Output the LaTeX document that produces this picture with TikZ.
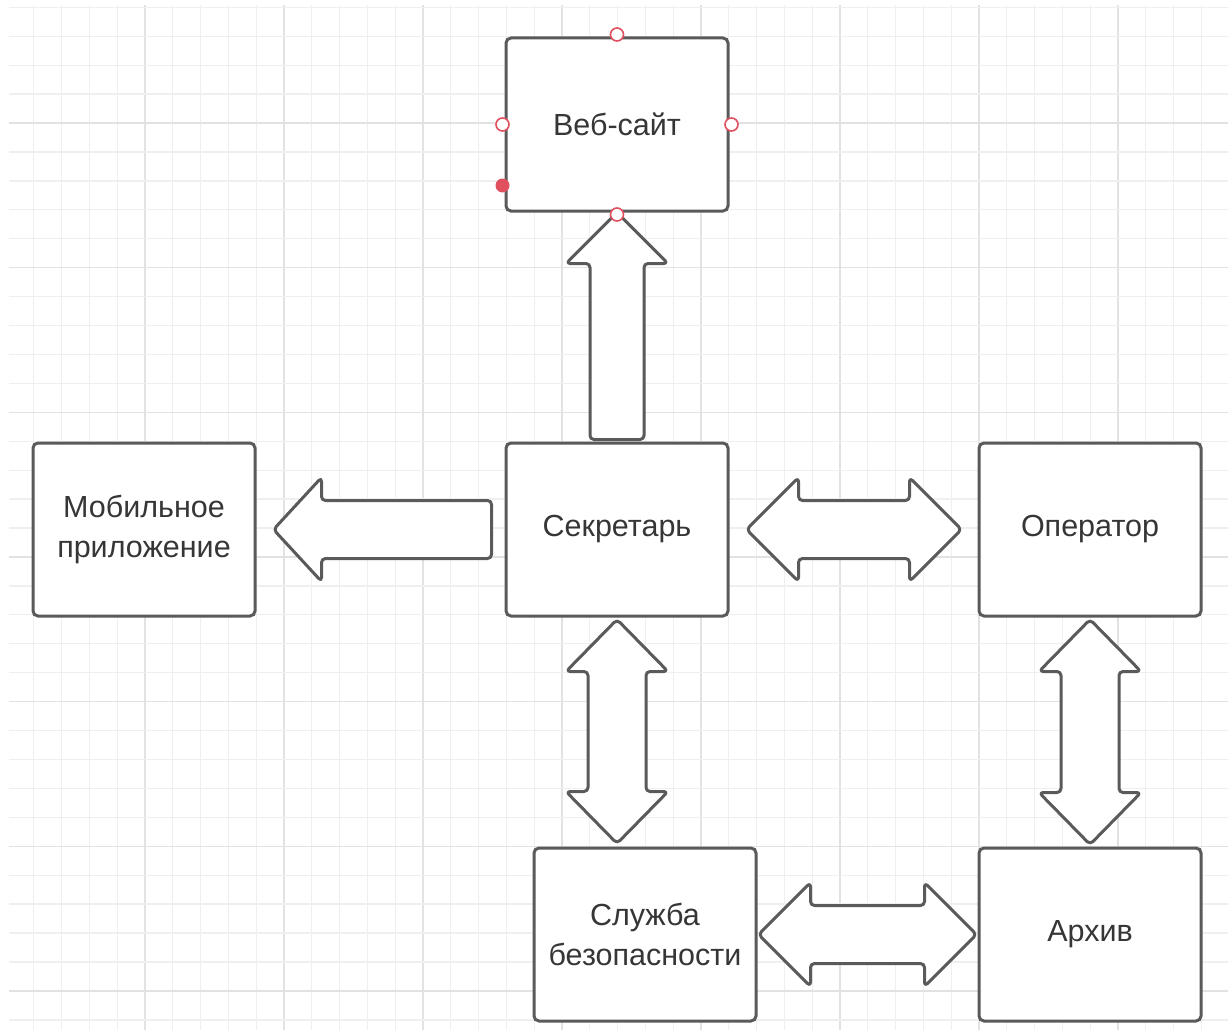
\documentclass[tikz,border=0pt]{standalone}
\usepackage{fontspec}
\setmainfont{Liberation Sans}
\usetikzlibrary{calc}

\definecolor{gridminor}{HTML}{EFEFEF}
\definecolor{gridmajor}{HTML}{E2E2E2}
\definecolor{outline}{HTML}{5A5A5A}
\definecolor{labeltext}{HTML}{363636}
\definecolor{handle}{HTML}{E0505F}

\tikzset{
  box/.style={draw=outline, line width=3pt, rounded corners=5pt, fill=white,
    minimum width=222pt, minimum height=173pt, align=center, text=labeltext,
    font=\fontsize{30.5}{40}\selectfont, inner sep=0pt},
  blk/.style={draw=outline, line width=3pt, fill=white, rounded corners=4pt, line join=round},
  handlering/.style={circle, draw=handle, line width=1.6pt, fill=white, minimum size=13pt, inner sep=0pt},
  handledot/.style={circle, fill=handle, minimum size=14pt, inner sep=0pt},
}

% double block arrow, horizontal: #1 left tip, #2 right tip
\newcommand\dblH[2]{%
  \draw[blk] (#1) -- ($(#1)+(52,-52)$) -- ($(#1)+(52,-29)$) -- ($(#2)+(-52,-29)$)
    -- ($(#2)+(-52,-52)$) -- (#2) -- ($(#2)+(-52,52)$) -- ($(#2)+(-52,29)$)
    -- ($(#1)+(52,29)$) -- ($(#1)+(52,52)$) -- cycle;}
% double block arrow, vertical: #1 top tip, #2 bottom tip
\newcommand\dblV[2]{%
  \draw[blk] (#1) -- ($(#1)+(51,52)$) -- ($(#1)+(29,52)$) -- ($(#2)+(29,-52)$)
    -- ($(#2)+(51,-52)$) -- (#2) -- ($(#2)+(-51,-52)$) -- ($(#2)+(-29,-52)$)
    -- ($(#1)+(-29,52)$) -- ($(#1)+(-51,52)$) -- cycle;}

\begin{document}
\begin{tikzpicture}[x=1pt, y=-1pt]
  \useasboundingbox (0,0) rectangle (1228,1030);
  \fill[white] (0,0) rectangle (1228,1030);

  % background grid
  \begin{scope}
    \clip (9,6) rectangle (1228,1030);
    \foreach \i in {0,...,44} {
      \pgfmathtruncatemacro{\m}{mod(\i,5)}
      \ifnum\m=0
        \draw[gridmajor, line width=1.5pt] ({6+27.8*\i},0) -- ({6+27.8*\i},1030);
      \else
        \draw[gridminor, line width=1.3pt] ({6+27.8*\i},0) -- ({6+27.8*\i},1030);
      \fi
    }
    \foreach \j in {0,...,35} {
      \pgfmathtruncatemacro{\m}{mod(\j+1,5)}
      \ifnum\m=0
        \draw[gridmajor, line width=1.5pt] (0,{7.3+28.93*\j}) -- (1228,{7.3+28.93*\j});
      \else
        \draw[gridminor, line width=1.3pt] (0,{7.3+28.93*\j}) -- (1228,{7.3+28.93*\j});
      \fi
    }
  \end{scope}

  % boxes
  \node[box] (web) at (617,124.5) {Веб-сайт};
  \node[box] (mob) at (144,529.5) {Мобильное\\приложение};
  \node[box] (sec) at (617,529.5) {Секретарь};
  \node[box] (op)  at (1090,529.5) {Оператор};
  \node[box] (sl)  at (645,934.5) {Служба\\безопасности};
  \node[box] (ar)  at (1090,934.5) {Архив};

  % arrow end points
  \coordinate (upTip)   at (web.south);
  \coordinate (upTail)  at ($(sec.north)+(0,-2)$);
  \coordinate (lTip)    at ($(mob.east)+(17,0)$);
  \coordinate (lTail)   at ($(sec.west)+(-13,0)$);
  \coordinate (soL)     at ($(sec.east)+(17,0)$);
  \coordinate (soR)     at ($(op.west)+(-16,0)$);
  \coordinate (ssT)     at ($(sec.south)+(0,2)$);
  \coordinate (ssB)     at ($(sec.south |- sl.north)+(0,-3)$);
  \coordinate (oaT)     at ($(op.south)+(0,2)$);
  \coordinate (oaB)     at ($(ar.north)+(0,-2)$);
  \coordinate (saL)     at ($(sl.east)+(1,0)$);
  \coordinate (saR)     at ($(ar.west)+(-1,0)$);

  % Секретарь -> Веб-сайт
  \draw[blk] (upTip) -- ($(upTip)+(51,51)$) -- ($(upTip)+(27,51)$) -- ($(upTail)+(27,0)$)
    -- ($(upTail)+(-27,0)$) -- ($(upTip)+(-27,51)$) -- ($(upTip)+(-51,51)$) -- cycle;

  % Секретарь -> Мобильное приложение
  \draw[blk] (lTip) -- ($(lTip)+(48,-52)$) -- ($(lTip)+(48,-29)$) -- ($(lTail)+(0,-29)$)
    -- ($(lTail)+(0,29)$) -- ($(lTip)+(48,29)$) -- ($(lTip)+(48,52)$) -- cycle;

  % two-way links
  \dblH{soL}{soR}
  \dblV{ssT}{ssB}
  \dblV{oaT}{oaB}
  \dblH{saL}{saR}

  % selection handles on Веб-сайт
  \node[handlering] (hN) at ($(web.north)+(0,-2)$) {};
  \node[handlering] (hW) at ($(web.west)+(-2,0)$) {};
  \node[handlering] (hE) at ($(web.east)+(2,0)$) {};
  \node[handlering] (hS) at ($(web.south)+(0,2)$) {};
  \node[handledot]  (hD) at ($(web.south west)+(-2,-27)$) {};
\end{tikzpicture}
\end{document}
